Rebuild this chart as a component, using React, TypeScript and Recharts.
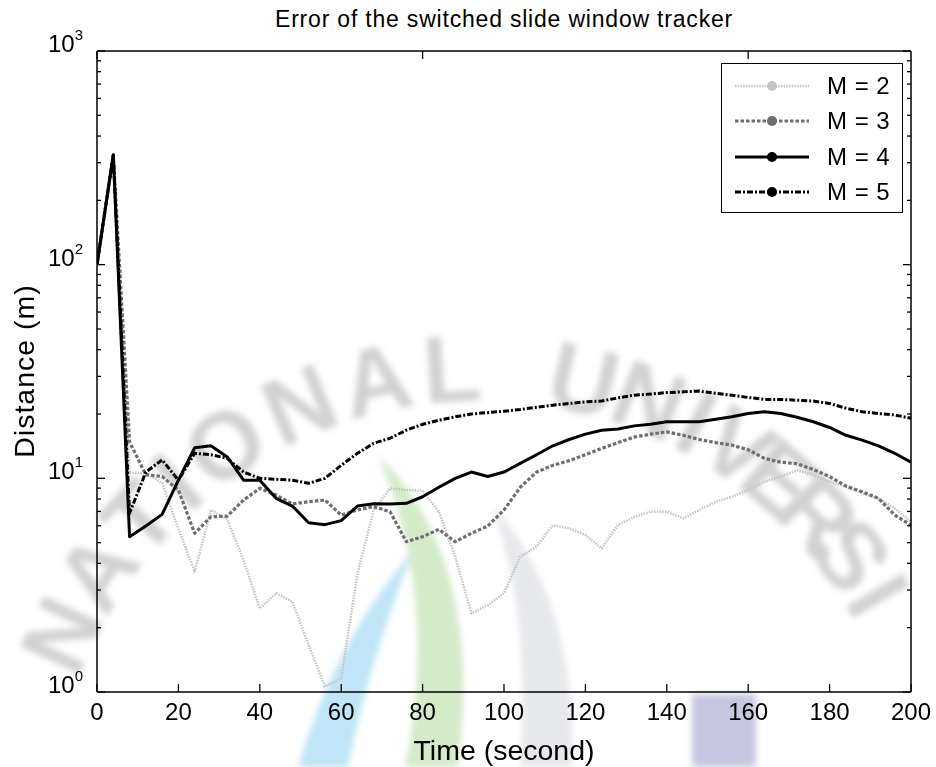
import React from 'react';
import { LineChart, Line, XAxis, YAxis, Legend } from 'recharts';

// sample times (s)
const time = [
  0, 4, 8, 12, 16, 20, 24, 28, 32, 36, 40, 44, 48, 52, 56, 60, 64, 68, 72, 76,
  80, 84, 88, 92, 96, 100, 104, 108, 112, 116, 120, 124, 128, 132, 136, 140, 144, 148, 152, 156,
  160, 164, 168, 172, 176, 180, 184, 188, 192, 196, 200,
];

// distance error (m), one list per window size
const m2 = [
  100, 326, 10.6, 10.6, 9.5, 5.8, 3.66, 7.11, 6.43, 4.15, 2.46, 2.9, 2.65, 1.66, 1.06, 1.16, 3.59, 7.11, 8.98, 8.81,
  8.75, 6.98, 4.3, 2.33, 2.55, 2.9, 4.3, 4.79, 6.04, 5.83, 5.43, 4.7, 6.04, 6.6, 6.98, 6.98, 6.5, 7.11, 7.78, 8.2,
  8.81, 9.64, 10.2, 10.9, 10.4, 9.64, 9.14, 8.51, 8.06, 7.24, 6.27,
];
const m3 = [
  100, 326, 14.8, 10.4, 10.2, 8.81, 5.53, 6.61, 6.65, 7.91, 8.98, 8.36, 7.58, 7.78, 7.91, 6.73, 7.11, 7.37, 6.98, 5.05,
  5.33, 5.77, 5.05, 5.53, 5.98, 7.11, 9.08, 10.7, 11.5, 12.1, 12.9, 13.8, 14.7, 15.6, 16.1, 16.5, 15.9, 15.2, 14.7, 14.3,
  13.6, 12.4, 11.9, 11.7, 11.0, 10.2, 9.2, 8.65, 8.06, 6.73, 6.04,
];
const m4 = [
  100, 326, 5.33, 5.98, 6.78, 9.8, 13.9, 14.2, 12.6, 9.8, 9.8, 8.06, 7.42, 6.2, 6.07, 6.34, 7.42, 7.6, 7.58, 7.64,
  8.2, 9.08, 10.0, 10.7, 10.2, 10.7, 11.75, 12.9, 14.2, 15.2, 16.1, 16.8, 17.0, 17.6, 17.9, 18.4, 18.4, 18.4, 18.9, 19.4,
  20.1, 20.5, 20.1, 19.3, 18.4, 17.3, 15.9, 15.1, 14.2, 13.1, 11.9,
];
const m5 = [
  100, 326, 6.86, 10.7, 12.2, 9.8, 13.1, 12.9, 12.4, 10.7, 10.0, 9.9, 9.8, 9.48, 10.0, 11.5, 13.1, 14.6, 15.4, 16.8,
  17.9, 18.7, 19.4, 20.0, 20.3, 20.6, 21.0, 21.5, 22.0, 22.4, 22.8, 23.0, 23.8, 24.5, 24.8, 25.2, 25.4, 25.6, 25.0, 24.5,
  23.9, 23.4, 23.4, 23.2, 23.0, 22.4, 21.3, 20.5, 20.1, 19.8, 19.1,
];

const xTicks = [0, 20, 40, 60, 80, 100, 120, 140, 160, 180, 200];
const yMajor = [1, 10, 100, 1000];
const yTicks = [
  1, 2, 3, 4, 5, 6, 7, 8, 9,
  10, 20, 30, 40, 50, 60, 70, 80, 90,
  100, 200, 300, 400, 500, 600, 700, 800, 900,
  1000,
];

// faint scan watermark behind the plot (letters on an arc, angle in degrees)
const wmLetters = ['N', 'A', 'T', 'I', 'O', 'N', 'A', 'L', 'U', 'N', 'I', 'V', 'E', 'R', 'S', 'I'];
const wmAngles = [155, 146, 137.5, 131, 123.5, 113, 103, 93.5, 77, 68.5, 62, 56, 49.5, 43, 36.5, 30.5];

const FONT = '"Liberation Sans", Arial, Helvetica, sans-serif';

const series = [
  { key: 'm2', name: 'M = 2', stroke: '#c4c4c4', width: 2.5, dash: '1.5 1.2' },
  { key: 'm3', name: 'M = 3', stroke: '#6e6e6e', width: 3.2, dash: '3.5 2' },
  { key: 'm4', name: 'M = 4', stroke: '#000000', width: 3, dash: undefined },
  { key: 'm5', name: 'M = 5', stroke: '#000000', width: 3, dash: '6 2 2 2' },
];

const data = time.map((t, i) => ({ t, m2: m2[i], m3: m3[i], m4: m4[i], m5: m5[i] }));

const isMajor = (v: number) => yMajor.includes(v);

const BottomTick = (props: any) => {
  const { x, y, payload } = props;
  return (
    <g>
      <line x1={x} x2={x} y1={y} y2={y - 8} stroke="#000" strokeWidth={1.3} />
      <text x={x} y={y + 28} textAnchor="middle" fontSize={24} fontFamily={FONT} fill="#000">
        {payload.value}
      </text>
    </g>
  );
};

const TopTick = (props: any) => {
  const { x, y } = props;
  return <line x1={x} x2={x} y1={y} y2={y + 8} stroke="#000" strokeWidth={1.3} />;
};

const LeftTick = (props: any) => {
  const { x, y, payload } = props;
  const major = isMajor(payload.value);
  return (
    <g>
      <line x1={x} x2={x + (major ? 8 : 4)} y1={y} y2={y} stroke="#000" strokeWidth={1.3} />
      {major && (
        <text x={x - 14} y={y + 1} textAnchor="end" fontSize={24} fontFamily={FONT} fill="#000">
          10
          <tspan dy={-12} fontSize={15}>
            {Math.round(Math.log10(payload.value))}
          </tspan>
        </text>
      )}
    </g>
  );
};

const RightTick = (props: any) => {
  const { x, y, payload } = props;
  const major = isMajor(payload.value);
  return <line x1={x} x2={x - (major ? 8 : 4)} y1={y} y2={y} stroke="#000" strokeWidth={1.3} />;
};

const LegendBox = () => (
  <div
    style={{
      border: '1.5px solid #000',
      background: '#fff',
      width: 182,
      height: 150,
      boxSizing: 'border-box',
      padding: '4px 0 0 13px',
    }}
  >
    {series.map((s) => (
      <div key={s.key} style={{ display: 'flex', alignItems: 'center', height: 35.5 }}>
        <svg width={74} height={14}>
          <line x1={0} x2={74} y1={7} y2={7} stroke={s.stroke} strokeWidth={s.width} strokeDasharray={s.dash} />
          <circle cx={37} cy={7} r={5} fill={s.stroke} />
        </svg>
        <span
          style={{
            marginLeft: 18,
            fontSize: 24,
            letterSpacing: 0.5,
            fontFamily: FONT,
            color: '#000',
            lineHeight: '24px',
          }}
        >
          {s.name}
        </span>
      </div>
    ))}
  </div>
);

const Watermark = () => {
  const cx = 480;
  const cy = 830;
  const r = 462;
  return (
    <svg width={936} height={767} style={{ position: 'absolute', left: 0, top: 0 }}>
      <defs>
        <filter id="wmblur" x="-20%" y="-20%" width="140%" height="140%">
          <feGaussianBlur stdDeviation="3" />
        </filter>
      </defs>
      <g filter="url(#wmblur)">
        <path d="M 415 548 Q 335 640 298 767 L 348 767 Q 372 650 415 548 Z" fill="#bfe5f6" />
        <path d="M 378 455 Q 485 560 458 767 L 405 767 Q 440 600 378 455 Z" fill="#d3ebc9" />
        <path d="M 492 505 Q 578 600 572 767 L 520 767 Q 532 620 492 505 Z" fill="#e7e8eb" />
        <rect x={692} y={694} width={64} height={73} fill="#c6c6e0" />
        {wmLetters.map((ch, i) => {
          const a = (wmAngles[i] * Math.PI) / 180;
          const x = cx + r * Math.cos(a);
          const y = cy - r * Math.sin(a);
          return (
            <text
              key={i}
              x={x}
              y={y}
              transform={`rotate(${90 - wmAngles[i]} ${x} ${y})`}
              textAnchor="middle"
              dominantBaseline="central"
              fontFamily={FONT}
              fontWeight="bold"
              fontSize={95}
              fill="#d2d2d2"
            >
              {ch}
            </text>
          );
        })}
      </g>
    </svg>
  );
};

export default function App() {
  return (
    <div style={{ position: 'absolute', left: 0, top: 0, width: 936, height: 767, background: '#fff', overflow: 'hidden' }}>
      <Watermark />
      <div
        style={{
          position: 'absolute',
          left: 97,
          top: 8,
          width: 814,
          textAlign: 'center',
          fontFamily: FONT,
          fontSize: 23,
          letterSpacing: 0.8,
          lineHeight: '23px',
          color: '#000',
        }}
      >
        Error of the switched slide window tracker
      </div>
      <LineChart
        width={936}
        height={767}
        data={data}
        margin={{ top: 41, right: 15, bottom: 15, left: 37 }}
      >
        <XAxis
          xAxisId="bottom"
          dataKey="t"
          type="number"
          domain={[0, 200]}
          allowDataOverflow
          ticks={xTicks}
          interval={0}
          height={60}
          tickSize={0}
          tickMargin={0}
          tick={<BottomTick />}
          tickLine={false}
          axisLine={{ stroke: '#000', strokeWidth: 1.5 }}
        />
        <XAxis
          xAxisId="top"
          orientation="top"
          type="number"
          domain={[0, 200]}
          allowDataOverflow
          ticks={xTicks}
          interval={0}
          height={10}
          tickSize={0}
          tickMargin={0}
          tick={<TopTick />}
          tickLine={false}
          axisLine={{ stroke: '#000', strokeWidth: 1.5 }}
        />
        <YAxis
          yAxisId="left"
          scale="log"
          type="number"
          domain={[1, 1000]}
          allowDataOverflow
          ticks={yTicks}
          interval={0}
          width={60}
          tickSize={0}
          tickMargin={0}
          tick={<LeftTick />}
          tickLine={false}
          axisLine={{ stroke: '#000', strokeWidth: 1.5 }}
        />
        <YAxis
          yAxisId="right"
          orientation="right"
          scale="log"
          type="number"
          domain={[1, 1000]}
          allowDataOverflow
          ticks={yTicks}
          interval={0}
          width={10}
          tickSize={0}
          tickMargin={0}
          tick={<RightTick />}
          tickLine={false}
          axisLine={{ stroke: '#000', strokeWidth: 1.5 }}
        />
        {series.map((s) => (
          <Line
            key={s.key}
            xAxisId="bottom"
            yAxisId="left"
            type="linear"
            dataKey={s.key}
            name={s.name}
            stroke={s.stroke}
            strokeWidth={s.width}
            strokeDasharray={s.dash}
            strokeLinejoin="round"
            dot={false}
            activeDot={false}
            isAnimationActive={false}
          />
        ))}
        <Legend
          layout="vertical"
          align="center"
          verticalAlign="middle"
          content={<LegendBox />}
          wrapperStyle={{ left: 721, top: 63, width: 182, height: 150 }}
        />
      </LineChart>
      <div
        style={{
          position: 'absolute',
          left: 97,
          top: 736,
          width: 814,
          textAlign: 'center',
          fontFamily: FONT,
          fontSize: 28.5,
          lineHeight: '28px',
          color: '#000',
        }}
      >
        Time (second)
      </div>
      <div
        style={{
          position: 'absolute',
          left: 24 - 150,
          top: 371 - 16,
          width: 300,
          height: 32,
          textAlign: 'center',
          fontFamily: FONT,
          fontSize: 28.5,
          letterSpacing: 1,
          lineHeight: '32px',
          color: '#000',
          transform: 'rotate(-90deg)',
        }}
      >
        Distance (m)
      </div>
    </div>
  );
}
